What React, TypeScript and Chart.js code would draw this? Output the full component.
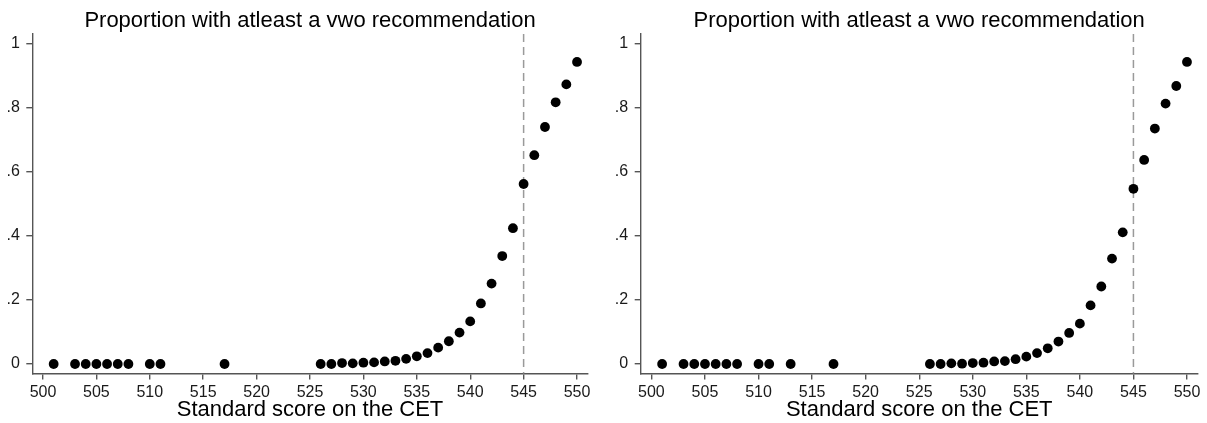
import React, { useEffect, useRef } from "react";
import { Chart, registerables } from "chart.js";

Chart.register(...registerables);

const FONT = '"Liberation Sans", Arial, Helvetica, sans-serif';
const TITLE = "Proportion with atleast a vwo recommendation";
const X_TITLE = "Standard score on the CET";
const X_TICKS = [500, 505, 510, 515, 520, 525, 530, 535, 540, 545, 550];
const Y_TICKS = [0, 0.2, 0.4, 0.6, 0.8, 1];
const Y_TICK_LABELS = ["0", ".2", ".4", ".6", ".8", "1"];
const CUTOFF = 545;

const leftScores = [
  501, 503, 504, 505, 506, 507, 508, 510, 511, 517,
  526, 527, 528, 529, 530, 531, 532, 533, 534, 535, 536, 537, 538,
  539, 540, 541, 542, 543, 544, 545, 546, 547, 548, 549, 550,
];
const leftProportions = [
  0, 0, 0, 0, 0, 0, 0, 0, 0, 0,
  0, 0, 0.003, 0.002, 0.004, 0.005, 0.008, 0.01, 0.016, 0.024, 0.034, 0.051, 0.071,
  0.098, 0.133, 0.189, 0.251, 0.337, 0.424, 0.562, 0.652, 0.74, 0.817, 0.873, 0.943,
];

const rightScores = [
  501, 503, 504, 505, 506, 507, 508, 510, 511, 513, 517,
  526, 527, 528, 529, 530, 531, 532, 533, 534, 535, 536, 537, 538,
  539, 540, 541, 542, 543, 544, 545, 546, 547, 548, 549, 550,
];
const rightProportions = [
  0, 0, 0, 0, 0, 0, 0, 0, 0, 0, 0,
  0, 0, 0.002, 0.001, 0.003, 0.004, 0.008, 0.009, 0.015, 0.023, 0.034, 0.049, 0.07,
  0.097, 0.126, 0.183, 0.242, 0.329, 0.411, 0.547, 0.637, 0.735, 0.813, 0.868, 0.943,
];

const titlePlugin = {
  id: "panelTitle",
  afterDraw(chart: any) {
    const { ctx, chartArea } = chart;
    ctx.save();
    ctx.font = `22px ${FONT}`;
    ctx.fillStyle = "#000";
    ctx.textAlign = "center";
    ctx.textBaseline = "alphabetic";
    ctx.fillText(TITLE, (chartArea.left + chartArea.right) / 2, 26.5);
    ctx.restore();
  },
};

const cutoffPlugin = {
  id: "cutoffLine",
  beforeDatasetsDraw(chart: any) {
    const { ctx, chartArea, scales } = chart;
    const x = scales.x.getPixelForValue(CUTOFF);
    ctx.save();
    ctx.strokeStyle = "#9a9a9a";
    ctx.lineWidth = 1.5;
    ctx.setLineDash([8, 5]);
    ctx.beginPath();
    ctx.moveTo(x, chartArea.top);
    ctx.lineTo(x, chartArea.bottom);
    ctx.stroke();
    ctx.restore();
  },
};

type PanelProps = {
  scores: number[];
  values: number[];
  left: number;
  width: number;
  axisWidth: number;
  padRight: number;
};

function Panel({ scores, values, left, width, axisWidth, padRight }: PanelProps) {
  const ref = useRef<HTMLCanvasElement | null>(null);
  useEffect(() => {
    if (!ref.current) return;
    const axisColor = "#555";
    const chart = new Chart(ref.current, {
      type: "scatter",
      data: {
        datasets: [
          {
            data: scores.map((x, i) => ({ x, y: values[i] })),
            pointRadius: 4.9,
            pointBackgroundColor: "#000",
            pointBorderWidth: 0,
            showLine: false,
          } as any,
        ],
      },
      options: {
        animation: false,
        responsive: false,
        devicePixelRatio: 1,
        layout: { padding: { top: 34.1, left: 0, right: padRight, bottom: 0 } },
        plugins: {
          legend: { display: false },
          tooltip: { enabled: false },
          title: { display: false },
        },
        scales: {
          x: {
            type: "linear",
            min: 499,
            max: 551,
            afterBuildTicks: (s: any) => {
              s.ticks = X_TICKS.map((v) => ({ value: v }));
            },
            afterFit: (s: any) => {
              s.height = 49.4;
            },
            grid: {
              drawOnChartArea: false,
              drawTicks: true,
              tickLength: 6,
              color: axisColor,
              lineWidth: 1.4,
            },
            border: { display: true, color: axisColor, width: 1.4 },
            ticks: {
              padding: 3.5,
              color: "#1a1a1a",
              font: { family: FONT, size: 16 },
              maxRotation: 0,
              autoSkip: false,
              callback: (v: any) => String(v),
            },
            title: {
              display: true,
              text: X_TITLE,
              color: "#000",
              font: { family: FONT, size: 22, lineHeight: 1.2 },
              padding: { top: 0, bottom: 0 },
            },
          },
          y: {
            type: "linear",
            min: -0.03,
            max: 1.03,
            afterBuildTicks: (s: any) => {
              s.ticks = Y_TICKS.map((v) => ({ value: v }));
            },
            afterFit: (s: any) => {
              s.width = axisWidth;
            },
            grid: {
              drawOnChartArea: false,
              drawTicks: true,
              tickLength: 6,
              color: axisColor,
              lineWidth: 1.4,
            },
            border: { display: true, color: axisColor, width: 1.4 },
            ticks: {
              padding: 6.5,
              color: "#1a1a1a",
              font: { family: FONT, size: 16 },
              callback: (v: any) => {
                const i = Y_TICKS.findIndex((t) => Math.abs(t - Number(v)) < 1e-9);
                return i >= 0 ? Y_TICK_LABELS[i] : "";
              },
            },
          },
        },
      } as any,
      plugins: [titlePlugin, cutoffPlugin],
    });
    return () => chart.destroy();
  }, [scores, values, axisWidth, padRight]);

  return (
    <canvas
      ref={ref}
      width={width}
      height={423}
      style={{ position: "absolute", left, top: 0, width, height: 423 }}
    />
  );
}

export default function App() {
  return (
    <div
      style={{
        position: "absolute",
        left: 0,
        top: 0,
        width: 1207,
        height: 423,
        background: "#fff",
        overflow: "hidden",
      }}
    >
      <Panel scores={leftScores} values={leftProportions} left={0} width={600} axisWidth={32.3} padRight={12.3} />
      <Panel scores={rightScores} values={rightProportions} left={600} width={607} axisWidth={40.7} padRight={9.3} />
    </div>
  );
}
